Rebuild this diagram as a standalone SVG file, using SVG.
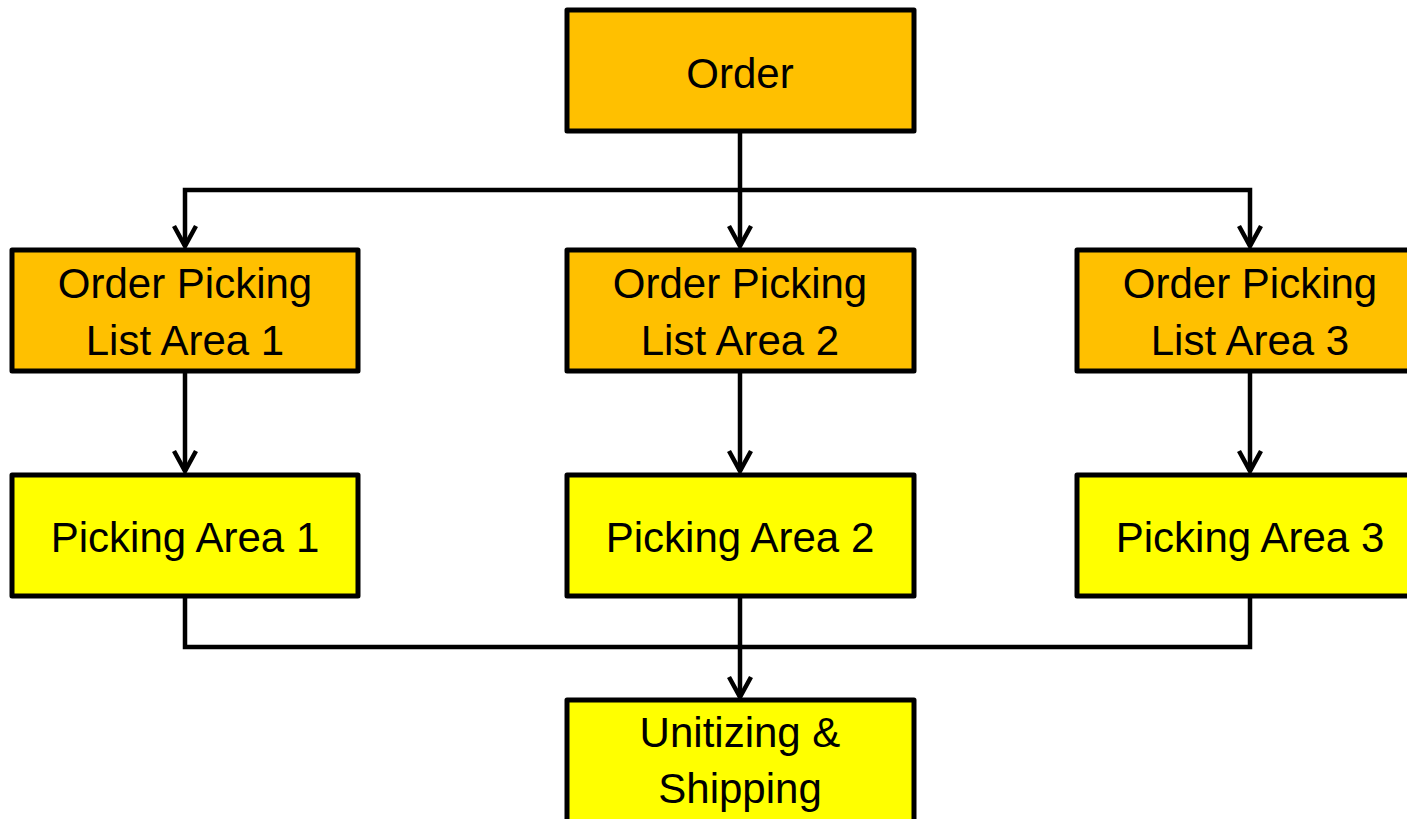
<svg xmlns="http://www.w3.org/2000/svg" width="1407" height="819" viewBox="0 0 1407 819">
  <style>
    .box { stroke: #000; stroke-width: 5; stroke-linejoin: round; }
    .orange { fill: #FFC000; }
    .yellow { fill: #FFFF00; }
    .label { font-family: "Liberation Sans", Arial, sans-serif; font-size: 42px; fill: #000; text-anchor: middle; }
    .wire { fill: none; stroke: #000; stroke-width: 4.5; stroke-linejoin: miter; }
  </style>
  <defs>
    <marker id="chev" markerUnits="userSpaceOnUse" markerWidth="32" markerHeight="32" viewBox="-26 -16 32 32" refX="0" refY="0" orient="auto-start-reverse" overflow="visible">
      <path d="M -20 -11 L 0 0 L -20 11" fill="none" stroke="#000" stroke-width="4.5"/>
    </marker>
  </defs>
  <rect width="1407" height="819" fill="#fff"/>

  <g id="connectors">
    <!-- Order to the three list nodes -->
    <path class="wire" d="M 740 132 L 740 246" marker-end="url(#chev)"/>
    <path class="wire" d="M 185 246 L 185 190 L 1250 190 L 1250 246" marker-start="url(#chev)" marker-end="url(#chev)"/>
    <!-- list nodes to picking areas -->
    <path class="wire" d="M 185 372 L 185 471" marker-end="url(#chev)"/>
    <path class="wire" d="M 740 372 L 740 471" marker-end="url(#chev)"/>
    <path class="wire" d="M 1250 372 L 1250 471" marker-end="url(#chev)"/>
    <!-- picking areas merge into unitizing -->
    <path class="wire" d="M 185 597 L 185 647 L 1250 647 L 1250 597"/>
    <path class="wire" d="M 740 597 L 740 697" marker-end="url(#chev)"/>
  </g>

  <g id="order">
    <rect class="box orange" x="567" y="10" width="347" height="121"/>
    <text class="label" x="740" y="88">Order</text>
  </g>

  <g id="list1">
    <rect class="box orange" x="12" y="250" width="346" height="121"/>
    <text class="label" x="185" y="298">Order Picking</text>
    <text class="label" x="185" y="355">List Area 1</text>
  </g>
  <g id="list2">
    <rect class="box orange" x="567" y="250" width="347" height="121"/>
    <text class="label" x="740" y="298">Order Picking</text>
    <text class="label" x="740" y="355">List Area 2</text>
  </g>
  <g id="list3">
    <rect class="box orange" x="1077" y="250" width="347" height="121"/>
    <text class="label" x="1250" y="298">Order Picking</text>
    <text class="label" x="1250" y="355">List Area 3</text>
  </g>

  <g id="area1">
    <rect class="box yellow" x="12" y="475" width="346" height="121"/>
    <text class="label" x="185" y="552">Picking Area 1</text>
  </g>
  <g id="area2">
    <rect class="box yellow" x="567" y="475" width="347" height="121"/>
    <text class="label" x="740" y="552">Picking Area 2</text>
  </g>
  <g id="area3">
    <rect class="box yellow" x="1077" y="475" width="347" height="121"/>
    <text class="label" x="1250" y="552">Picking Area 3</text>
  </g>

  <g id="shipping">
    <rect class="box yellow" x="567" y="700" width="347" height="140"/>
    <text class="label" x="740" y="747">Unitizing &amp;</text>
    <text class="label" x="740" y="803">Shipping</text>
  </g>
</svg>
